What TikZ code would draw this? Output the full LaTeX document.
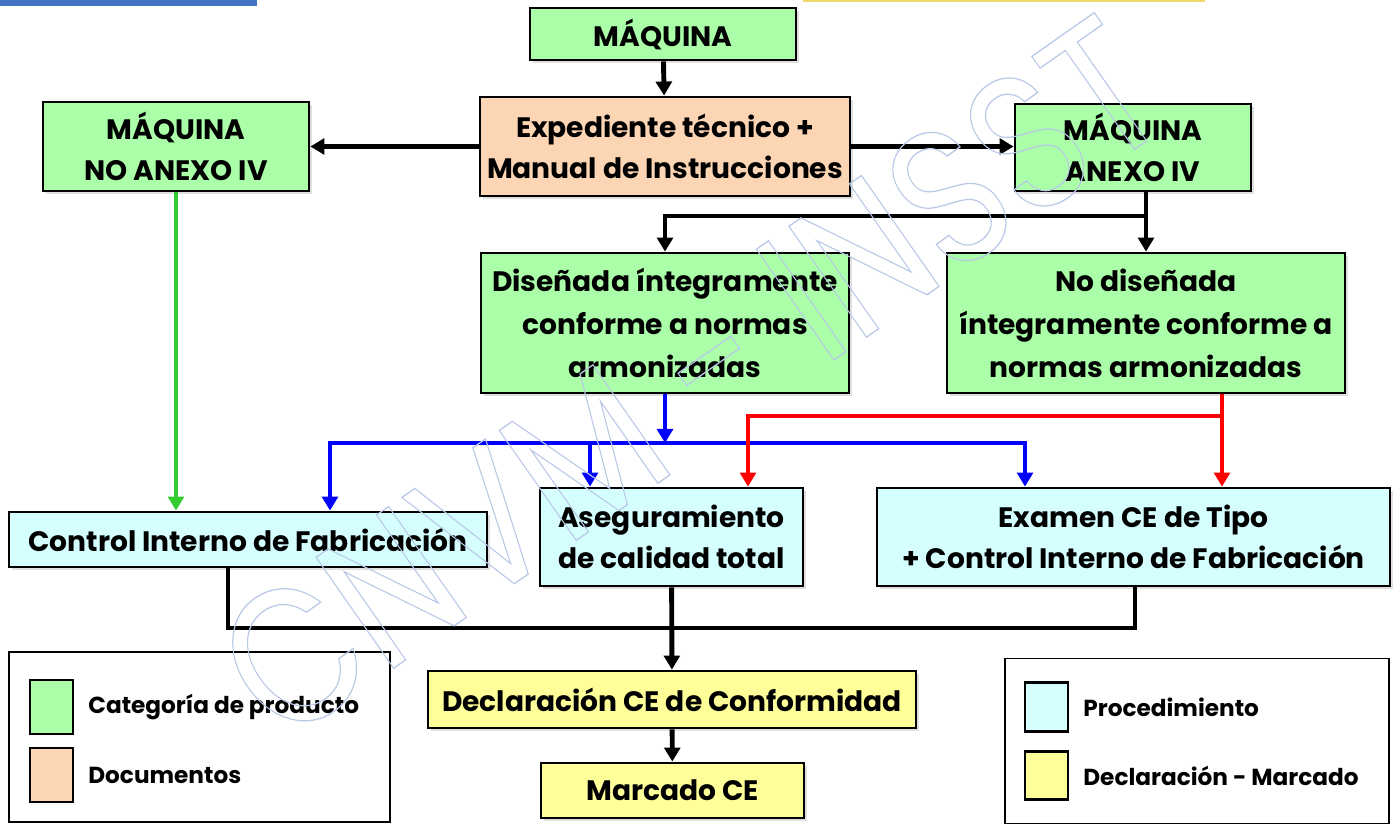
\documentclass[tikz,border=0pt]{standalone}
\usepackage{fontspec}
\setmainfont{Poppins}
\usetikzlibrary{arrows.meta,shadows}

\definecolor{verde}{RGB}{170,255,168}
\definecolor{salmon}{RGB}{252,213,181}
\definecolor{celeste}{RGB}{213,255,255}
\definecolor{amarillo}{RGB}{255,255,153}
\definecolor{verdelinea}{RGB}{51,204,51}
\definecolor{azulbarra}{RGB}{68,114,196}
\definecolor{amarillolinea}{RGB}{242,217,107}
\definecolor{marcagua}{RGB}{185,200,230}

\begin{document}
\begin{tikzpicture}[x=0.02cm, y=-0.02cm,
  caja/.style={draw, line width=1.6pt, align=center, inner sep=0pt,
    font=\fontsize{16}{23}\selectfont\bfseries,
    drop shadow={shadow xshift=1.5pt, shadow yshift=-1.5pt, fill=black!25}},
  cajalarga/.style={caja, font=\fontsize{16}{24.5}\selectfont\bfseries},
  muestra/.style={draw, line width=1.6pt, minimum width=0.86cm, inner sep=0pt},
  textoley/.style={anchor=west, inner sep=0pt, font=\fontsize{13.2}{15}\selectfont\bfseries},
  punta/.style={-{Triangle[width=9pt, length=8pt]}},
  flecha/.style={punta, line width=2.8pt},
  dobleflecha/.style={{Triangle[width=9pt, length=8pt]}-{Triangle[width=9pt, length=8pt]}, line width=2.8pt}]

\useasboundingbox (0,0) rectangle (1399,825);

%% marcas de la cabecera
\fill[azulbarra] (0,0) rectangle (257,6);
\fill[amarillolinea] (803,0) rectangle (1205,2);

%% categorias y documentos
\node[caja, fill=verde, minimum width=5.32cm, minimum height=1.04cm] (maq) at (663,34) {MÁQUINA};
\node[caja, fill=salmon, minimum width=7.4cm, minimum height=1.98cm] (exp) at (665,146.5) {Expediente técnico +\\Manual de Instrucciones};
\node[caja, fill=verde, minimum width=5.32cm, minimum height=1.78cm] (noanexo) at (176,146.5) {MÁQUINA\\NO ANEXO IV};
\node[caja, fill=verde, minimum width=4.72cm, minimum height=1.74cm] (anexo) at (1133,147.5) {MÁQUINA\\ANEXO IV};
\node[cajalarga, fill=verde, minimum width=7.36cm, minimum height=2.8cm] (dis) at (665,323) {Diseñada íntegramente\\conforme a normas\\armonizadas};
\node[cajalarga, fill=verde, minimum width=7.96cm, minimum height=2.8cm] (nodis) at (1146,323) {No diseñada\\íntegramente conforme a\\normas armonizadas};

%% procedimientos
\node[caja, fill=celeste, minimum width=9.56cm, minimum height=1.1cm] (cif) at (248,539.5) {Control Interno de Fabricación};
\node[caja, fill=celeste, minimum width=5.26cm, minimum height=1.96cm] (aseg) at (671.5,537) {Aseguramiento\\de calidad total};
\node[caja, fill=celeste, minimum width=10.26cm, minimum height=1.96cm] (exam) at (1133.5,537) {Examen CE de Tipo\\+ Control Interno de Fabricación};

%% declaracion y marcado
\node[caja, fill=amarillo, minimum width=9.76cm, minimum height=1.14cm] (decl) at (672,699.5) {Declaración CE de Conformidad};
\node[caja, fill=amarillo, minimum width=5.26cm, minimum height=1.1cm] (marc) at (672.5,790.5) {Marcado CE};

%% flechas negras
\draw[flecha] (maq) -- (exp);
\draw[flecha] (exp.west) -- (noanexo.east);
\draw[flecha] (exp.east) -- (exp.east -| anexo.west);
\coordinate (j1) at (1146,216);
\draw[line width=2.8pt] (anexo.south -| j1) -- (j1);
\draw[dobleflecha] (dis.north) |- (j1) -- (nodis.north);

%% rama verde
\draw[flecha, verdelinea, line width=2.4pt] (noanexo.south) -- (noanexo.south |- cif.north);

%% rama azul
\coordinate (b0) at (330,443);
\coordinate (b1) at (1025,443);
\coordinate (b2) at (590,443);
\draw[flecha, blue] (dis.south) -- (dis.south |- b0);
\draw[dobleflecha, blue] (b0 |- cif.north) -- (b0) -- (b1) -- (b1 |- exam.north);
\draw[flecha, blue] (b2) -- (b2 |- aseg.north);

%% rama roja
\coordinate (r0) at (1222,416);
\coordinate (r1) at (748,416);
\draw[flecha, red] (nodis.south -| r0) -- (r0) -| (r1 |- aseg.north);
\draw[flecha, red] (r0) -- (r0 |- exam.north);

%% salida hacia la declaracion
\coordinate (k0) at (228,628);
\coordinate (k1) at (1135,628);
\draw[line width=2.8pt] (k0 |- cif.south) -- (k0) -- (k1) -- (k1 |- exam.south);
\draw[flecha] (aseg) -- (decl);
\draw[flecha] (decl) -- (marc);

%% leyendas
\node[draw, line width=1pt, minimum width=7.62cm, minimum height=3.4cm, inner sep=0pt] (leyA) at (199.5,737) {};
\node[muestra, fill=verde, minimum height=1.08cm] (mA1) at (51.5,707) {};
\node[muestra, fill=salmon, minimum height=1.08cm] (mA2) at (51.5,775) {};
\node[textoley] (tA1) at (88,707) {Categoría de producto};
\node[textoley] (tA2) at (88,775) {Documentos};

\node[draw, line width=1pt, minimum width=7.68cm, minimum height=3.3cm, inner sep=0pt] (leyB) at (1197,741) {};
\node[muestra, fill=celeste, minimum height=0.97cm] (mB1) at (1046.5,707) {};
\node[muestra, fill=amarillo, minimum height=0.97cm] (mB2) at (1046.5,775.5) {};
\node[textoley] (tB1) at (1083,707) {Procedimiento};
\node[textoley] (tB2) at (1083,775.5) {Declaración - Marcado};

%% marca de agua (solo contorno)
\node[rotate=35, yscale=1.2, font=\fontsize{92}{92}\selectfont, text=marcagua] (marca) at (690,378)
  {\special{pdf:literal direct 1 Tr 0.6 w}CNVM - INSST\special{pdf:literal direct 0 Tr}};

\end{tikzpicture}
\end{document}
